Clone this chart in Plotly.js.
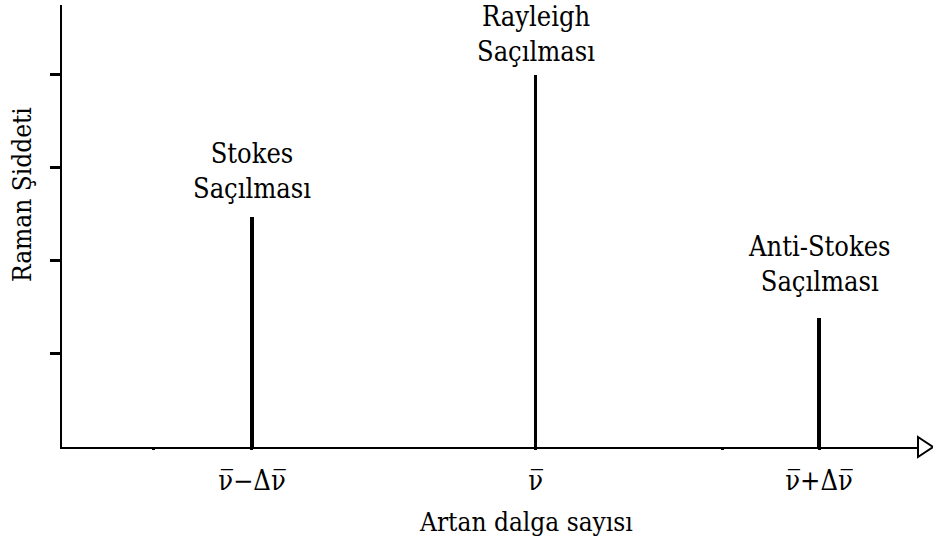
<!DOCTYPE html>
<html>
<head>
<meta charset="utf-8">
<script src="https://cdn.plot.ly/plotly-3.0.1.min.js"></script>
<style>
  html, body { margin: 0; padding: 0; background: #fff; }
  #chart { width: 933px; height: 545px; }
</style>
</head>
<body>
<div id="chart"></div>
<script>
// Wavenumber positions (in units of the Raman shift) and relative intensities
const lineNames = ["Stokes", "Rayleigh", "Anti-Stokes"];
const shiftPos = [-1, 0, 1];
const intensity = [2.47, 3.99, 1.38];
const lineLabels = ["Stokes<br>Saçılması", "Rayleigh<br>Saçılması", "Anti-Stokes<br>Saçılması"];

// Axis ticks (overlined nu via combining overline)
const xTickVals = [-1.348, -1, 0, 0.659, 1];
const xTickText = ["", "ν\u0305\u2212Δν\u0305", "ν\u0305", "", "ν\u0305+Δν\u0305"];
const yTickVals = [1, 2, 3, 4];

const xTitle = "Artan dalga sayısı";
const yTitle = "Raman Şiddeti";

const serif = "DejaVu Serif Condensed, DejaVu Serif";
const xRange = [-1.670, 1.349];
const yRange = [0, 4.74];

const labelShift = [11, 6, 19];

const traces = [{
  type: "bar",
  x: shiftPos,
  y: intensity,
  width: 0.014,
  marker: { color: "#000", line: { width: 0 } },
  hoverinfo: "x+y",
  showlegend: false
}];

const annotations = lineNames.map((n, i) => ({
  x: shiftPos[i],
  y: intensity[i],
  xref: "x", yref: "y",
  text: lineLabels[i],
  showarrow: false,
  yanchor: "bottom",
  yshift: labelShift[i],
  font: { family: serif, size: 27, color: "#000" }
}));

// vertical intensity title, placed a little above the middle of the axis
annotations.push({
  xref: "paper", yref: "paper",
  x: 0, y: 0.57,
  xshift: -40,
  text: yTitle,
  textangle: -90,
  showarrow: false,
  xanchor: "center", yanchor: "middle",
  font: { family: serif, size: 26, color: "#000" }
});

// wavenumber title, centred under the Rayleigh line region
annotations.push({
  xref: "paper", yref: "paper",
  x: 0.542, y: -0.170,
  text: xTitle,
  showarrow: false,
  xanchor: "center", yanchor: "middle",
  font: { family: serif, size: 26, color: "#000" }
});

const layout = {
  width: 933, height: 545,
  margin: { l: 62, r: 15, t: 5, b: 98, pad: 0 },
  paper_bgcolor: "#fff",
  plot_bgcolor: "#fff",
  showlegend: false,
  bargap: 0,
  font: { family: serif, color: "#000" },
  xaxis: {
    range: xRange,
    showgrid: false, zeroline: false,
    showline: true, linecolor: "#000", linewidth: 2,
    tickvals: xTickVals, ticktext: xTickText,
    ticks: "outside", ticklen: 1, tickwidth: 3, tickcolor: "#000",
    tickfont: { family: serif, size: 27, color: "#000" },
    ticklabelstandoff: 8,
    automargin: false,
    fixedrange: true
  },
  yaxis: {
    range: yRange,
    showgrid: false, zeroline: false,
    showline: true, linecolor: "#000", linewidth: 2,
    tickvals: yTickVals, showticklabels: false,
    ticks: "outside", ticklen: 10, tickwidth: 3, tickcolor: "#000",
    automargin: false,
    fixedrange: true
  },
  annotations: annotations,
  shapes: [{
    // open arrowhead closing the wavenumber axis
    type: "path",
    xref: "paper", yref: "paper",
    xsizemode: "pixel", ysizemode: "pixel",
    xanchor: 1, yanchor: 0,
    path: "M0,-10 L15,0 L0,10 Z",
    fillcolor: "#fff",
    line: { color: "#000", width: 2 },
    layer: "above"
  }]
};

Plotly.newPlot("chart", traces, layout, { displayModeBar: false, staticPlot: true });
</script>
</body>
</html>
